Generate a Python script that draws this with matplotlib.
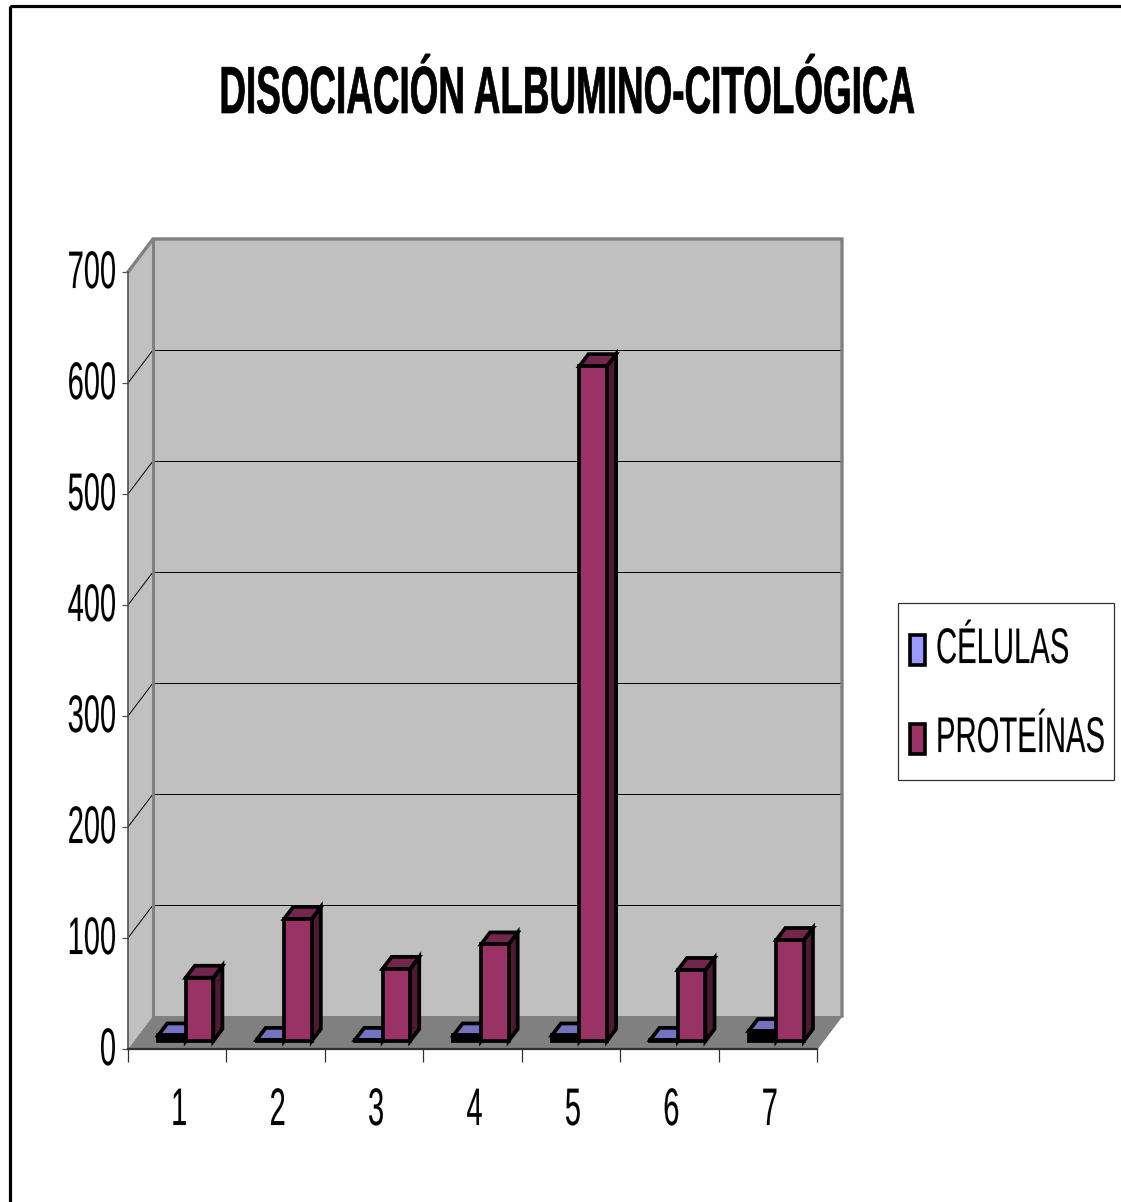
import matplotlib
matplotlib.use("Agg")
import matplotlib.pyplot as plt
from matplotlib.patches import Polygon, Rectangle
from matplotlib.patheffects import AbstractPathEffect
from matplotlib.text import Text
from matplotlib.transforms import Affine2D, Bbox

# Chart content
title = "DISOCIACIÓN ALBUMINO-CITOLÓGICA"
categories = ["1", "2", "3", "4", "5", "6", "7"]
celulas = [5, 1, 1, 5, 5, 1, 9]
proteinas = [57, 110, 65, 87, 608, 64, 91]
series_names = ["CÉLULAS", "PROTEÍNAS"]
y_ticks = [0, 100, 200, 300, 400, 500, 600, 700]

W, H = 1121, 1202
FONT = "Liberation Sans"

# Front plane of the box and the shift to its back wall, in pixels
LEFT, RIGHT, BOTTOM, TOP = 128, 817, 1049, 272
DEPTH_X_PX, DEPTH_Y_PX = 25, 33

fig = plt.figure(figsize=(W / 100, H / 100), dpi=100, facecolor="white")
ax = fig.add_axes([LEFT / W, 1 - BOTTOM / H, (RIGHT - LEFT) / W, (BOTTOM - TOP) / H])
ax.set_xlim(0, len(categories))
ax.set_ylim(0, 700)
ax.patch.set_visible(False)
for spine in ax.spines.values():
    spine.set_visible(False)

depth_dx = DEPTH_X_PX / ((RIGHT - LEFT) / len(categories))
depth_dy = DEPTH_Y_PX / ((BOTTOM - TOP) / 700)

# Pixel coordinates measured from the top-left corner of the figure
pixels = Affine2D().scale(1 / W, -1 / H).translate(0, 1) + fig.transFigure


def project(x, value, depth):
    """Map a category position, a value and a depth in 0..1 onto the oblique view."""
    return x + depth * depth_dx, value + depth * depth_dy


class _Squeeze(AbstractPathEffect):
    def __init__(self, owner):
        super().__init__()
        self.owner = owner

    def draw_path(self, renderer, gc, tpath, affine, rgbFace=None):
        cx = self.owner.anchor_x()
        s = self.owner.squeeze
        squeezed = affine + Affine2D().translate(-cx, 0).scale(s, 1).translate(cx, 0)
        stroked = renderer.new_gc()
        stroked.copy_properties(gc)
        stroked.set_foreground("black")
        stroked.set_linewidth(self.owner.stroke)
        renderer.draw_path(stroked, tpath, squeezed, rgbFace)
        stroked.restore()


class NarrowText(Text):
    """Text compressed horizontally about its anchor point."""

    def __init__(self, *args, squeeze=1.0, stroke=0.1, **kwargs):
        super().__init__(*args, **kwargs)
        self.squeeze = squeeze
        self.stroke = stroke
        self.set_path_effects([_Squeeze(self)])

    def anchor_x(self):
        return self.get_transform().transform(self.get_position())[0]

    def get_window_extent(self, renderer=None, dpi=None):
        bb = super().get_window_extent(renderer, dpi)
        cx, s = self.anchor_x(), self.squeeze
        return Bbox.from_extents(cx + (bb.x0 - cx) * s, bb.y0, cx + (bb.x1 - cx) * s, bb.y1)


def label(x, y, text, size, squeeze, ha="center", weight="normal", stroke=0.1):
    fig.add_artist(NarrowText(x, y, text, squeeze=squeeze, stroke=stroke, fontsize=size, ha=ha,
                              va="center", fontweight=weight, family=FONT, color="black",
                              transform=pixels))


def poly(points, face, edge="none", lw=0.0, z=1):
    ax.add_patch(Polygon(points, closed=True, facecolor=face, edgecolor=edge, linewidth=lw,
                         joinstyle="miter", clip_on=False, zorder=z))


# Outer chart frame, open past the right and bottom edges
fig.add_artist(Rectangle((10, 6), W, H, transform=pixels, facecolor="none",
                         edgecolor="black", linewidth=2.3))

n = len(categories)
WALL = "#C0C0C0"
FLOOR = "#808080"
poly([project(0, 0, 1), project(n, 0, 1), project(n, 700, 1), project(0, 700, 1)], WALL)
poly([project(0, 0, 0), project(0, 0, 1), project(0, 700, 1), project(0, 700, 0)], WALL)
poly([project(0, 0, 0), project(n, 0, 0), project(n, 0, 1), project(0, 0, 1)], FLOOR)

# Gridlines run over the side wall and across the back wall
for v in y_ticks[1:-1]:
    ax.plot(*zip(project(0, v, 0), project(0, v, 1)), color="black", lw=0.7, clip_on=False, zorder=2)
    ax.plot(*zip(project(0, v, 1), project(n, v, 1)), color="black", lw=0.7, clip_on=False, zorder=2)

# Wall outlines
GREY = "#808080"
outline = [project(0, 700, 0), project(0, 700, 1), project(n, 700, 1), project(n, 0, 1)]
ax.plot(*zip(*outline), color=GREY, lw=2.4, clip_on=False, zorder=2, solid_joinstyle="miter")
ax.plot(*zip(project(0, 0, 1), project(0, 700, 1)), color=GREY, lw=2.2, clip_on=False, zorder=2)
ax.plot(*zip(project(n, 0, 0), project(n, 0, 1)), color=GREY, lw=1.0, clip_on=False, zorder=2)
ax.plot(*zip(project(0, 0, 0), project(0, 700, 0)), color="#505050", lw=1.2, clip_on=False, zorder=3)
ax.plot(*zip(project(0, 0, 0), project(n, 0, 0)), color="#303030", lw=1.6, clip_on=False, zorder=3)

ax.set_xticks(range(n + 1))
ax.set_yticks(y_ticks)
ax.tick_params(axis="x", length=9.4, width=0.9, color="#303030", labelbottom=False)
ax.tick_params(axis="y", length=4.3, width=0.9, color="#505050", labelleft=False)

# Bars
BAR_W = 0.28
BAR_OFFSET = 0.025
D0, D1 = 8 / DEPTH_Y_PX, 20 / DEPTH_Y_PX
EDGE_LW = 2.7
SHORT_BAR = 12  # value below which the thick outline swallows the front face
PALETTE = {
    "CÉLULAS": ("#9999FF", "#7373BF", "#4D4D80"),
    "PROTEÍNAS": ("#993366", "#73264D", "#4D1933"),
}


def draw_bar(x0, x1, value, colours, z):
    front, top, side = colours
    if value < SHORT_BAR:
        front = "black"
    poly([project(x1, 0, D0), project(x1, 0, D1), project(x1, value, D1), project(x1, value, D0)],
         side, "black", EDGE_LW, z)
    poly([project(x0, value, D0), project(x1, value, D0), project(x1, value, D1), project(x0, value, D1)],
         top, "black", EDGE_LW, z)
    poly([project(x0, 0, D0), project(x1, 0, D0), project(x1, value, D0), project(x0, value, D0)],
         front, "black", EDGE_LW, z)


for i in range(n):
    mid = i + 0.5 + BAR_OFFSET
    draw_bar(mid - BAR_W, mid, celulas[i], PALETTE[series_names[0]], 5 + i * 2)
    draw_bar(mid, mid + BAR_W, proteinas[i], PALETTE[series_names[1]], 6 + i * 2)

# Text
label(567, 96, title, 48, 0.5525, weight="bold", stroke=0.5)
for v in y_ticks:
    label(116, BOTTOM - (BOTTOM - TOP) * v / 700 + 2, str(v), 38, 0.55, ha="right")
for i, cat in enumerate(categories):
    label(LEFT + (RIGHT - LEFT) * (i + 0.5) / n + 2, 1111, cat, 38, 0.55)

# Legend box
fig.add_artist(Rectangle((898, 603), 216, 177, transform=pixels, facecolor="white",
                         edgecolor="#303030", linewidth=0.9))
for name, y_mid in zip(series_names, (650, 739)):
    fig.add_artist(Rectangle((910, y_mid - 15), 15, 30, transform=pixels,
                             facecolor=PALETTE[name][0], edgecolor="black", linewidth=2.6))
    label(936, y_mid, name, 36, 0.585, ha="left")

fig.savefig("out.png", dpi=100, facecolor="white")
